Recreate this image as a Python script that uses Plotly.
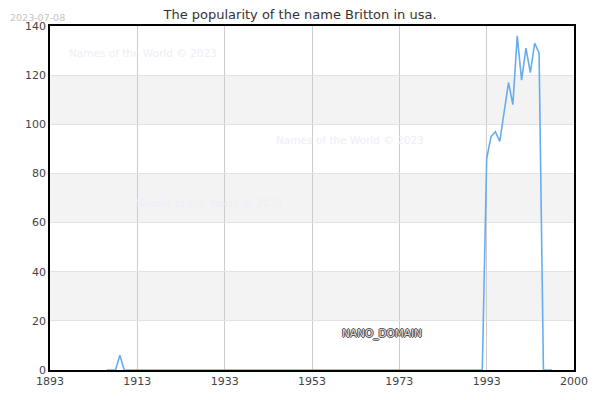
import plotly.graph_objects as go

years = list(range(1906, 2009))
values = [0, 0, 0, 6] + [0] * (1992 - 1910 + 1) + [86, 95, 97, 93, 105, 117, 108, 136, 118, 131, 121, 133, 129, 0, 0, 0]

x_ticks = [1893, 1913, 1933, 1953, 1973, 1993, 2013]
x_tick_labels = ["1893", "1913", "1933", "1953", "1973", "1993", "2000"]
y_ticks = [0, 20, 40, 60, 80, 100, 120, 140]
bands = [(20, 40), (60, 80), (100, 120)]

title = "The popularity of the name Britton in usa."
date_label = "2023-07-08"
watermark = "Names of the World © 2023"
watermark_pos = [(145, 50), (357, 138), (213, 202)]

# page offset from default body margin
OFF = 8
L, R, T, B = 50, 586, 23, 370  # plot area in page pixels
W, H = 600 - OFF, 400 - OFF

def px_to_paper(px, py):
    return (px - L) / (R - L), (B - py) / (B - T)

fig = go.Figure()
fig.add_trace(go.Scatter(x=years, y=values, mode="lines",
                         line=dict(color="#68acf0", width=1.6),
                         hoverinfo="skip", showlegend=False))

shapes = []
for lo, hi in bands:
    shapes.append(dict(type="rect", xref="paper", yref="y", x0=0, x1=1, y0=lo, y1=hi,
                       fillcolor="#f3f3f3", line=dict(width=0), layer="below"))

annotations = []
for (wx, wy) in watermark_pos:
    ax, ay = px_to_paper(wx, wy)
    annotations.append(dict(text=watermark, x=ax, y=ay, xref="paper", yref="paper",
                            xanchor="center", yanchor="middle",
                            showarrow=False, font=dict(family="DejaVu Sans", size=10.5, color="#eceefa")))
dx, dy = px_to_paper(OFF, OFF)
annotations.append(dict(text=date_label, x=dx, y=dy, xref="paper", yref="paper",
                        xanchor="left", yanchor="top", showarrow=False, borderpad=0,
                        font=dict(family="DejaVu Sans", size=9.5, color="#c4c4c4")))
nx, ny = px_to_paper(390, 333)
annotations.append(dict(text="NANO_DOMAIN", x=nx, y=ny, xref="paper", yref="paper",
                        xanchor="center", yanchor="middle",
                        showarrow=False,
                        font=dict(family="DejaVu Sans", size=10.5, color="#e4dce4",
                                  shadow="1px 0 0 #4a4a4a, -1px 0 0 #4a4a4a, 0 1px 0 #4a4a4a, 0 -1px 0 #4a4a4a")))

fig.update_layout(
    width=W, height=H,
    margin=dict(l=L - OFF, r=W + OFF - R, t=T - OFF, b=H + OFF - B),
    paper_bgcolor="white", plot_bgcolor="white",
    title=dict(text=title, x=(300 - OFF) / W, xref="container", xanchor="center",
               y=1 - 2 / H, yanchor="top", yref="container",
               font=dict(family="DejaVu Sans", size=13, color="#333333")),
    shapes=shapes, annotations=annotations,
    xaxis=dict(range=[1893, 2013], tickvals=x_ticks, ticktext=x_tick_labels,
               showgrid=True, gridcolor="#cccccc", gridwidth=1,
               showline=True, linecolor="black", linewidth=1.5, mirror=True,
               ticks="", zeroline=False,
               tickfont=dict(family="DejaVu Sans", size=11, color="#444444")),
    yaxis=dict(range=[0, 140], tickvals=y_ticks,
               showgrid=True, gridcolor="#e2e2e2", gridwidth=1,
               showline=True, linecolor="black", linewidth=1.5, mirror=True,
               ticks="", zeroline=False,
               tickfont=dict(family="DejaVu Sans", size=11, color="#444444")),
)

fig.write_html("out.html")
